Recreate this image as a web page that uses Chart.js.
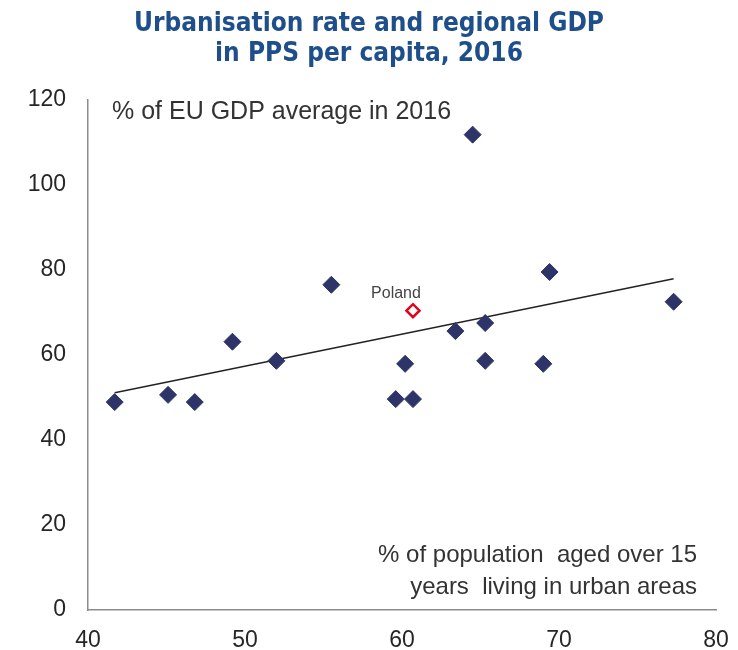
<!DOCTYPE html>
<html>
<head>
<meta charset="utf-8">
<script src="https://cdn.jsdelivr.net/npm/chart.js@4.4.1/dist/chart.umd.min.js"></script>
<style>
  html, body { margin: 0; padding: 0; background: #fff; }
  #wrap { width: 738px; height: 650px; position: relative; }
</style>
</head>
<body>
<div id="wrap"><canvas id="chart-urban"></canvas></div>
<script>
// urbanisation (% population 15+ in urban areas) vs GDP (% of EU average)
var urbanRate = [41.7, 45.1, 46.8, 49.2, 52.0, 55.5, 59.6, 60.2, 60.7, 63.4, 64.5, 65.3, 65.3, 69.0, 69.4, 77.3];
var gdpShare  = [48.9, 50.6, 48.9, 63.1, 58.6, 76.5, 49.6, 57.9, 49.6, 65.6, 111.8, 67.5, 58.6, 57.9, 79.5, 72.5];
var polandRate = [60.7];
var polandGdp  = [70.4];
var trendRate = [41.7, 77.3];
var trendGdp  = [51.1, 77.9];
var titleLines = ['Urbanisation rate and regional GDP', 'in PPS per capita, 2016'];

function toPoints(xs, ys) {
    return xs.map(function(x, i) { return { x: x, y: ys[i] }; });
}

// textos soltos dentro da area do grafico
var notas = {
    id: 'notas',
    afterDraw: function(chart) {
        var ctx = chart.ctx, a = chart.chartArea;
        var sx = chart.scales.x, sy = chart.scales.y;
        ctx.save();
        ctx.fillStyle = '#333';
        ctx.textBaseline = 'middle';
        ctx.font = '25px "Liberation Sans", Arial, sans-serif';
        ctx.textAlign = 'left';
        ctx.fillText('% of EU GDP average in 2016', a.left + 24, a.top + 12);
        ctx.font = '24px "Liberation Sans", Arial, sans-serif';
        ctx.textAlign = 'right';
        ctx.fillText('% of population  aged over 15', a.right - 19, a.bottom - 55);
        ctx.fillText('years  living in urban areas', a.right - 19, a.bottom - 23);
        ctx.font = '16px "Liberation Sans", Arial, sans-serif';
        ctx.fillStyle = '#444';
        ctx.textAlign = 'center';
        ctx.fillText('Poland', sx.getPixelForValue(polandRate[0]) - 17, sy.getPixelForValue(polandGdp[0]) - 17);
        ctx.restore();
    }
};

new Chart(document.getElementById('chart-urban'), {
    type: 'scatter',
    data: {
        datasets: [{
            type: 'line',
            data: toPoints(trendRate, trendGdp),
            borderColor: '#222',
            borderWidth: 1.4,
            pointRadius: 0,
            fill: false,
            order: 3
        }, {
            data: toPoints(urbanRate, gdpShare),
            pointStyle: 'rectRot',
            pointRadius: 8.5,
            backgroundColor: '#2d3568',
            borderColor: '#2d3568',
            borderWidth: 1,
            order: 2
        }, {
            data: toPoints(polandRate, polandGdp),
            pointStyle: 'rectRot',
            pointRadius: 6.5,
            backgroundColor: '#fff',
            borderColor: '#e3001b',
            borderWidth: 2.5,
            order: 1
        }]
    },
    options: {
        responsive: true, maintainAspectRatio: false, animation: false,
        layout: { padding: 0 },
        plugins: {
            legend: { display: false },
            tooltip: { enabled: false },
            title: {
                display: true,
                text: titleLines,
                color: '#1f4f8b',
                font: { family: '"DejaVu Sans Condensed", "Open Sans", sans-serif', size: 26, weight: 'bold', lineHeight: 1.15 },
                padding: { top: 9, bottom: 31 }
            }
        },
        scales: {
            x: {
                min: 40, max: 80,
                ticks: { stepSize: 10, padding: 17, color: '#262626', font: { family: '"Liberation Sans", Arial, sans-serif', size: 23 } },
                grid: { display: false, drawTicks: false },
                border: { display: true, color: '#8c8c8c', width: 1.5 },
                afterFit: function(s) { s.height = 40; s.paddingRight = 22; s.paddingLeft = 0; }
            },
            y: {
                min: 0, max: 120,
                ticks: { stepSize: 20, padding: 22, color: '#262626', font: { family: '"Liberation Sans", Arial, sans-serif', size: 23 } },
                grid: { display: false, drawTicks: false },
                border: { display: true, color: '#8c8c8c', width: 1.5 },
                afterFit: function(s) { s.width = 88; }
            }
        }
    },
    plugins: [notas]
});
</script>
</body>
</html>
